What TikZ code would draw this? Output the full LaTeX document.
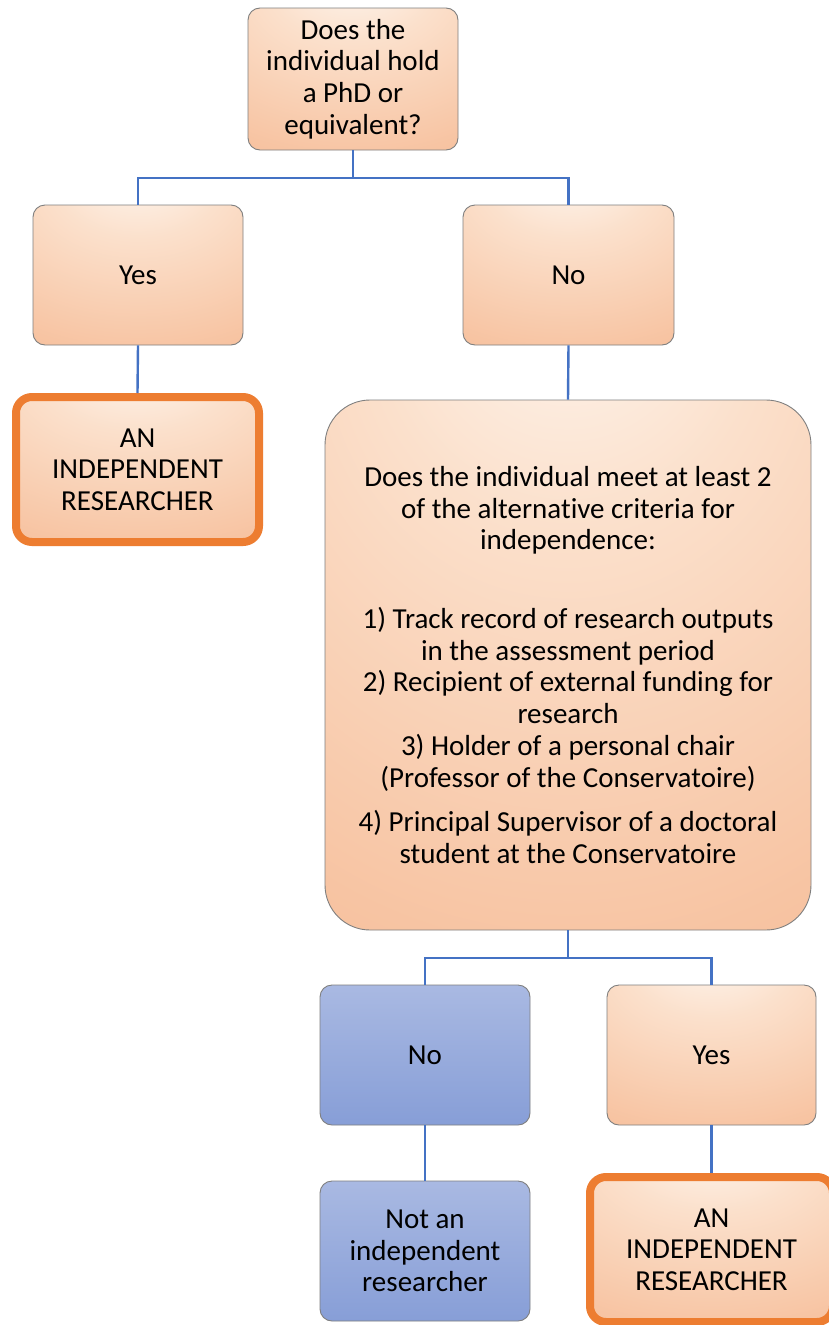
\documentclass[tikz,border=0pt]{standalone}
\usepackage{fontspec}
\setmainfont{Carlito}[Ligatures=NoCommon]
\definecolor{conn}{HTML}{4472C4}
\definecolor{edge}{HTML}{7F7F7F}
\definecolor{bord}{HTML}{ED7D31}
\definecolor{blueT}{HTML}{A9B9E2}
\definecolor{blueB}{HTML}{879ED7}
\pgfdeclareradialshading{orshade}{\pgfpoint{0bp}{40bp}}{%
  rgb(0bp)=(0.998,0.975,0.955);
  rgb(20bp)=(0.985,0.88,0.80);
  rgb(50bp)=(0.97,0.77,0.64);
  rgb(85bp)=(0.95,0.67,0.50);
  rgb(120bp)=(0.94,0.62,0.43)}
\tikzset{
  every node/.style={font=\fontsize{29}{31.7}\selectfont, align=center, inner sep=0pt},
  obox/.style={shading=orshade, draw=edge, line width=0.9pt, rounded corners=12pt},
  bbox/.style={top color=blueT, bottom color=blueB, draw=edge, line width=0.9pt, rounded corners=12pt},
  rbox/.style={shading=orshade, draw=bord, line width=8pt, rounded corners=16pt},
  link/.style={draw=conn, line width=2.4pt}
}
\begin{document}
\begin{tikzpicture}[x=1pt,y=-1pt]
\clip (0,0) rectangle (829,1325);
\fill[white] (0,0) rectangle (829,1325);
\node[obox, minimum width=210pt, minimum height=142pt] (q1) at (353,79) {Does the\\individual hold\\a PhD or\\equivalent?};
\node[obox, minimum width=210pt, minimum height=140pt] (yes1) at (138,275) {Yes};
\node[obox, minimum width=211pt, minimum height=140pt] (no1) at (568.5,275) {No};
\node[rbox, minimum width=243pt, minimum height=145pt] (ir1) at (137.5,469.5) {AN\\INDEPENDENT\\RESEARCHER};
\node[obox, rounded corners=45pt, minimum width=486pt, minimum height=530pt] (q2) at (568,665) {Does the individual meet at least 2\\of the alternative criteria for\\independence:\\[47pt]1) Track record of research outputs\\in the assessment period\\2) Recipient of external funding for\\research\\3) Holder of a personal chair\\(Professor of the Conservatoire)\\[13pt]4) Principal Supervisor of a doctoral\\student at the Conservatoire};
\node[bbox, minimum width=210pt, minimum height=140pt] (no2) at (425,1055) {No};
\node[obox, minimum width=209pt, minimum height=140pt] (yes2) at (711.5,1055) {Yes};
\node[bbox, minimum width=210pt, minimum height=140pt] (not) at (425,1251) {Not an\\independent\\researcher};
\node[rbox, minimum width=243pt, minimum height=145pt] (ir2) at (711.5,1249.5) {AN\\INDEPENDENT\\RESEARCHER};
\coordinate (j1) at (353,178);
\coordinate (j2) at (568,958);
\draw[link] (q1.south) -- (j1) -| (yes1.north);
\draw[link] (j1) -| (no1.north);
\draw[link] (yes1.south) -- (ir1.north);
\draw[link] (no1.south) -- (q2.north);
\draw[link] (q2.south) -- (j2) -| (no2.north);
\draw[link] (j2) -| (yes2.north);
\draw[link] (no2.south) -- (not.north);
\draw[link] (yes2.south) -- (ir2.north);
\end{tikzpicture}
\end{document}
